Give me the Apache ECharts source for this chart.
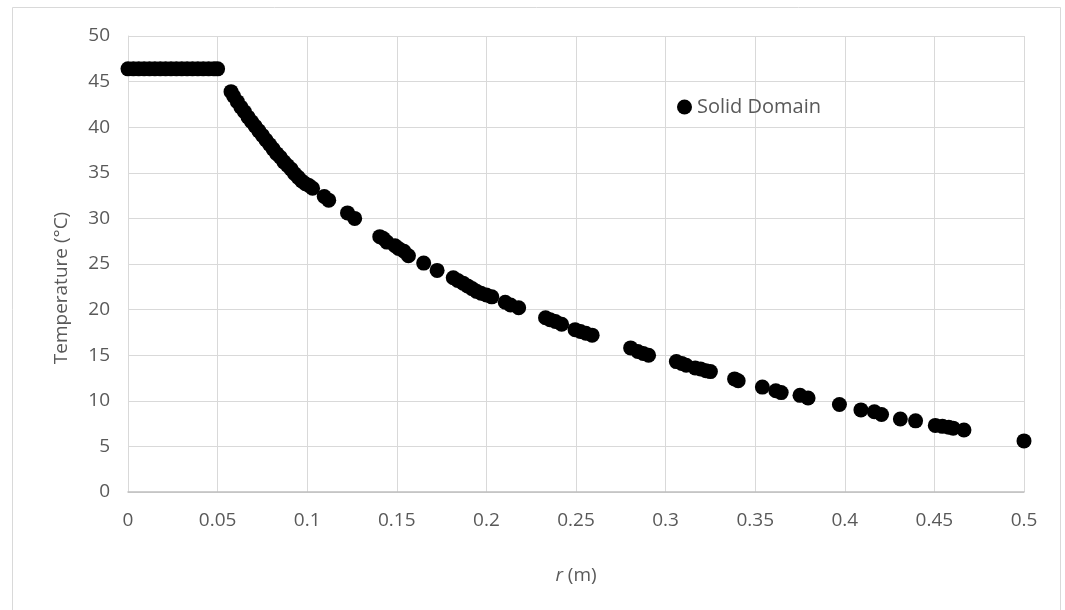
<!DOCTYPE html>
<html>
<head>
<meta charset="utf-8">
<script src="https://cdn.jsdelivr.net/npm/echarts@6/dist/echarts.min.js"></script>
<style>
html,body{margin:0;padding:0;background:#fff;}
#chart{width:1065px;height:610px;}
</style>
</head>
<body>
<div id="chart"></div>
<script>
// r (m)
const rValues = [
  0, 0.003, 0.006, 0.009, 0.012, 0.015, 0.018, 0.021, 0.024, 0.027, 0.030, 0.033, 0.036, 0.039, 0.042, 0.045, 0.048, 0.050,
  0.0575, 0.059, 0.061, 0.063, 0.065, 0.067, 0.069, 0.071, 0.073, 0.075, 0.077, 0.079, 0.081, 0.083, 0.085, 0.087, 0.089,
  0.091, 0.093, 0.095, 0.097, 0.099, 0.101, 0.103, 0.1095, 0.112,
  0.1225, 0.1265,
  0.1405, 0.1425, 0.1445, 0.149, 0.151, 0.154, 0.1565,
  0.165, 0.1725,
  0.1815, 0.184, 0.187, 0.1895, 0.192, 0.1945, 0.197, 0.200, 0.203,
  0.2105, 0.2135, 0.218,
  0.233, 0.2355, 0.2385, 0.242,
  0.2495, 0.2525, 0.2555, 0.259,
  0.2805, 0.2845, 0.2875, 0.2905,
  0.306, 0.309, 0.3115, 0.3165, 0.3195, 0.3225, 0.325,
  0.3385, 0.3405,
  0.354, 0.3615, 0.3645,
  0.375, 0.3795,
  0.397, 0.409, 0.4165, 0.4205, 0.431, 0.4395, 0.4505, 0.4545, 0.458, 0.4605, 0.4665,
  0.500
];
// Temperature (°C)
const tempValues = [
  46.4, 46.4, 46.4, 46.4, 46.4, 46.4, 46.4, 46.4, 46.4, 46.4, 46.4, 46.4, 46.4, 46.4, 46.4, 46.4, 46.4, 46.4,
  43.9, 43.4, 42.8, 42.2, 41.7, 41.1, 40.6, 40.1, 39.6, 39.1, 38.6, 38.1, 37.6, 37.1, 36.7, 36.2, 35.8,
  35.4, 34.9, 34.5, 34.1, 33.8, 33.6, 33.3, 32.4, 32.0,
  30.6, 30.0,
  28.0, 27.8, 27.4, 27.0, 26.7, 26.4, 25.9,
  25.1, 24.3,
  23.5, 23.2, 22.9, 22.6, 22.3, 22.0, 21.8, 21.6, 21.4,
  20.8, 20.5, 20.2,
  19.1, 18.9, 18.7, 18.4,
  17.8, 17.6, 17.4, 17.2,
  15.8, 15.4, 15.2, 15.0,
  14.3, 14.1, 13.9, 13.6, 13.5, 13.3, 13.2,
  12.4, 12.2,
  11.5, 11.1, 10.9,
  10.6, 10.3,
  9.6, 9.0, 8.8, 8.5, 8.0, 7.8, 7.3, 7.2, 7.1, 7.0, 6.8,
  5.6
];
const xTicks = ['0','0.05','0.1','0.15','0.2','0.25','0.3','0.35','0.4','0.45','0.5'];
const yTicks = ['0','5','10','15','20','25','30','35','40','45','50'];
const seriesName = 'Solid Domain';

const points = rValues.map((r, i) => [r, tempValues[i]]);
const FONT = '"Open Sans", "Noto Sans", sans-serif';
const TXT = '#595959';
const chart = echarts.init(document.getElementById('chart'), null, {renderer: 'canvas'});
chart.setOption({
  animation: false,
  backgroundColor: '#ffffff',
  graphic: [{
    type: 'rect', left: 10, top: 5, silent: true,
    shape: {x: 0, y: 0, width: 1048, height: 620},
    style: {fill: 'none', stroke: '#d9d9d9', lineWidth: 1}
  }],
  grid: {left: 128, right: 41, top: 36, bottom: 118, containLabel: false},
  legend: {
    left: 672, top: 92, itemWidth: 15, itemHeight: 15,
    icon: 'circle',
    data: [seriesName],
    textStyle: {fontFamily: FONT, fontSize: 20, color: TXT}
  },
  xAxis: {
    type: 'value', min: 0, max: 0.5, interval: 0.05,
    name: '{i|r} (m)', nameLocation: 'middle', nameGap: 74,
    nameTextStyle: {fontFamily: FONT, fontSize: 19, color: TXT,
      rich: {i: {fontStyle: 'italic', fontFamily: FONT, fontSize: 19, color: TXT}}},
    axisLine: {show: true, lineStyle: {color: '#bfbfbf', width: 1.5}},
    axisTick: {show: false},
    splitLine: {show: true, lineStyle: {color: '#d9d9d9', width: 1}},
    axisLabel: {
      fontFamily: FONT, fontSize: 19, color: TXT, margin: 19,
      formatter: (v) => { const i = Math.round(v / 0.05); return xTicks[i] !== undefined ? xTicks[i] : ''; }
    }
  },
  yAxis: {
    type: 'value', min: 0, max: 50, interval: 5,
    name: 'Temperature (°C)', nameLocation: 'middle', nameGap: 57, nameRotate: 90,
    nameTextStyle: {fontFamily: FONT, fontSize: 19, color: TXT, padding: [0, 48, 0, 0]},
    axisLine: {show: true, lineStyle: {color: '#d9d9d9', width: 1}},
    axisTick: {show: false},
    splitLine: {show: true, lineStyle: {color: '#d9d9d9', width: 1}},
    axisLabel: {
      fontFamily: FONT, fontSize: 19, color: TXT, margin: 18,
      formatter: (v) => { const i = Math.round(v / 5); return yTicks[i] !== undefined ? yTicks[i] : ''; }
    }
  },
  series: [{
    name: seriesName,
    type: 'scatter',
    data: points,
    symbol: 'circle',
    symbolSize: 15,
    itemStyle: {color: '#000000', opacity: 1},
    clip: false
  }]
});
</script>
</body>
</html>
